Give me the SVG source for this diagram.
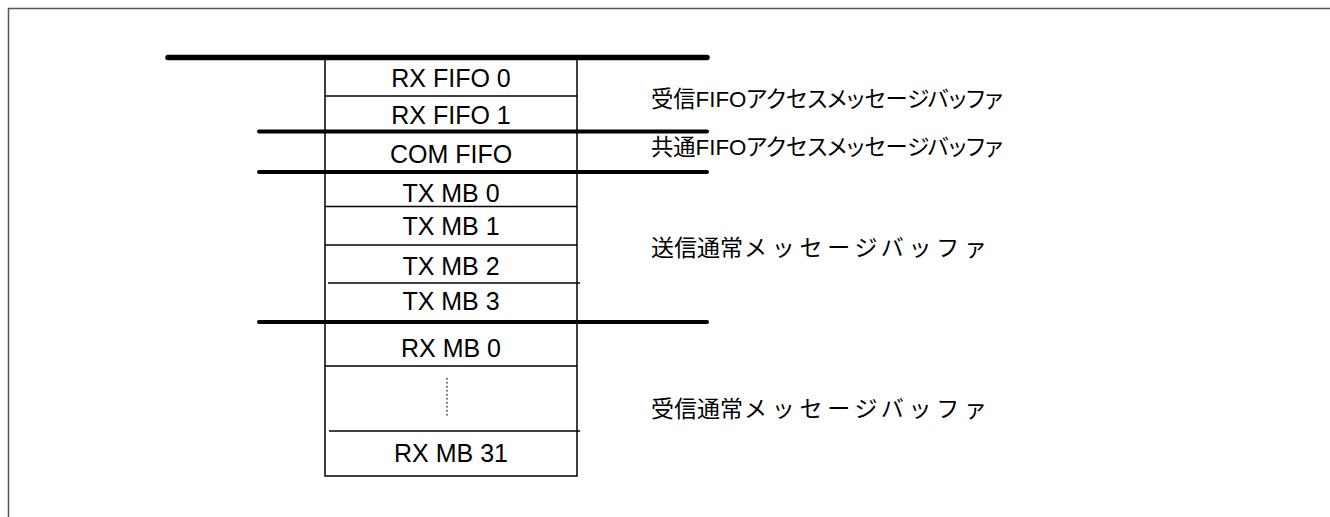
<svg xmlns="http://www.w3.org/2000/svg" width="1330" height="517" viewBox="0 0 1330 517">
<style>
.frame{fill:none;stroke:#555;stroke-width:1.5}
.thick{stroke:#000;stroke-width:5.5;stroke-linecap:round}
.sep{stroke:#000;stroke-width:4;stroke-linecap:round}
.thin{stroke:#000;stroke-width:1.5}
.box{fill:#fff;stroke:#000;stroke-width:1.5}
.dot{stroke:#000;stroke-width:1.2;stroke-dasharray:1.5 2.5}
.lbl{font-family:"Liberation Sans",Arial,sans-serif;font-size:25px;fill:#000;text-anchor:middle}
.jp{font-family:"Liberation Sans","Noto Sans CJK JP",sans-serif;font-size:23px;fill:#000}
.palt{font-size:22.3px;font-feature-settings:"palt"}
</style>
<rect width="1330" height="517" fill="#fff"/>
<path class="frame" d="M8.5,517 V8.5 H1330"/>
<g id="buffer">
<rect class="box" x="325" y="57.5" width="252" height="418.5"/>
</g>
<g id="connectors">
<line class="thin" x1="325" y1="96" x2="577" y2="96"/>
<line class="thin" x1="325" y1="206.5" x2="577" y2="206.5"/>
<line class="thin" x1="325" y1="245" x2="577" y2="245"/>
<line class="thin" x1="328" y1="283" x2="580" y2="283"/>
<line class="thin" x1="325" y1="366" x2="577" y2="366"/>
<line class="thin" x1="329" y1="431" x2="580" y2="431"/>
<line class="dot" x1="447" y1="378" x2="447" y2="417"/>
<line class="thick" x1="168" y1="57.5" x2="707" y2="57.5"/>
<line class="sep" x1="259" y1="131.5" x2="707" y2="131.5"/>
<line class="sep" x1="259" y1="172" x2="707" y2="172"/>
<line class="sep" x1="259" y1="322" x2="707" y2="322"/>
</g>
<g id="rxfifo0"><text class="lbl" x="451" y="87">RX FIFO 0</text></g>
<g id="rxfifo1"><text class="lbl" x="451" y="124">RX FIFO 1</text></g>
<g id="comfifo"><text class="lbl" x="451" y="163">COM FIFO</text></g>
<g id="txmb0"><text class="lbl" x="451" y="202">TX MB 0</text></g>
<g id="txmb1"><text class="lbl" x="451" y="235">TX MB 1</text></g>
<g id="txmb2"><text class="lbl" x="451" y="275">TX MB 2</text></g>
<g id="txmb3"><text class="lbl" x="451" y="310">TX MB 3</text></g>
<g id="rxmb0"><text class="lbl" x="451" y="357">RX MB 0</text></g>
<g id="rxmb31"><text class="lbl" x="451" y="462">RX MB 31</text></g>
<g id="label-rxfifo"><text class="jp palt" x="651" y="107">受信FIFOアクセスメッセージバッファ</text></g>
<g id="label-comfifo"><text class="jp palt" x="651" y="155">共通FIFOアクセスメッセージバッファ</text></g>
<g id="label-txmb"><text class="jp" x="651" y="256">送信通常<tspan x="744" textLength="243" lengthAdjust="spacing">メッセージバッファ</tspan></text></g>
<g id="label-rxmb"><text class="jp" x="651" y="417">受信通常<tspan x="744" textLength="243" lengthAdjust="spacing">メッセージバッファ</tspan></text></g>
</svg>
